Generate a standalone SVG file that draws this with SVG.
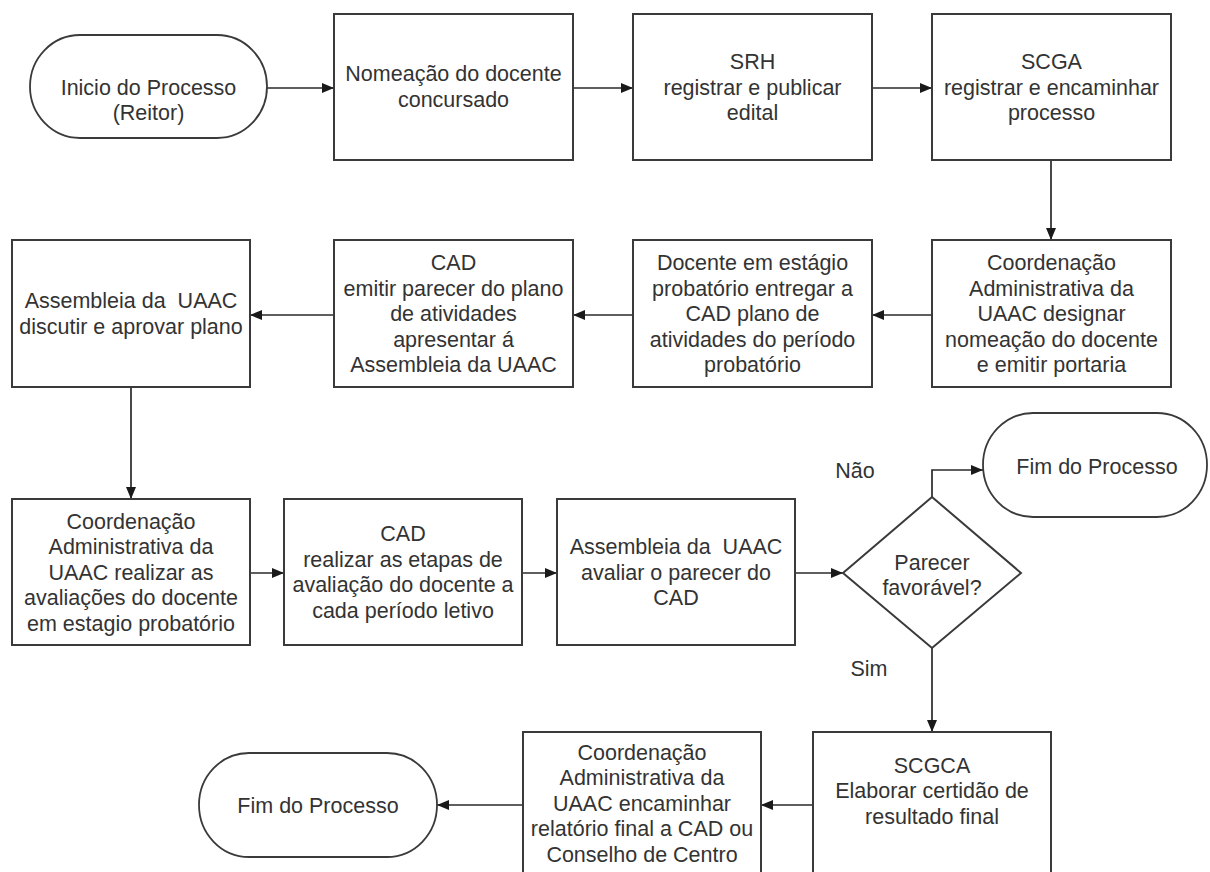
<svg xmlns="http://www.w3.org/2000/svg" width="1210" height="872" viewBox="0 0 1210 872">
  <style>
    .box { fill: #ffffff; stroke: #3a3a3a; stroke-width: 2; }
    .term { fill: #ffffff; stroke: #3a3a3a; stroke-width: 1.8; }
    .lbl { font-family: "Liberation Sans", Arial, sans-serif; font-size: 21.5px; fill: #333333; text-anchor: middle; white-space: pre; }
    .edge { fill: none; stroke: #2a2a2a; stroke-width: 1.7; marker-end: url(#arrow); }
  </style>
  <defs>
    <marker id="arrow" markerUnits="userSpaceOnUse" markerWidth="13" markerHeight="11" refX="12" refY="5.5" orient="auto">
      <path d="M0,0.5 L12,5.5 L0,10.5 z" fill="#1a1a1a"/>
    </marker>
  </defs>
  <rect width="1210" height="872" fill="#ffffff"/>

  <!-- connectors -->
  <g id="connectors">
    <path class="edge" d="M267,88 L334,88"/>
    <path class="edge" d="M573,88 L633,88"/>
    <path class="edge" d="M872,88 L932,88"/>
    <path class="edge" d="M1051,160 L1051,240"/>
    <path class="edge" d="M932,315 L872,315"/>
    <path class="edge" d="M633,315 L573,315"/>
    <path class="edge" d="M334,315 L250,315"/>
    <path class="edge" d="M131,387 L131,499"/>
    <path class="edge" d="M250,573 L284,573"/>
    <path class="edge" d="M522,573 L557,573"/>
    <path class="edge" d="M795,573 L843,573"/>
    <path class="edge" d="M932,497 L932,470 L983,470"/>
    <path class="edge" d="M932,648 L932,732"/>
    <path class="edge" d="M813,805 L761,805"/>
    <path class="edge" d="M523,805 L437,805"/>
  </g>

  <!-- row 1 -->
  <g id="inicio">
    <rect class="term" x="30" y="35" width="237" height="103" rx="50" ry="51.5"/>
    <text class="lbl" x="148.5" y="95">Inicio do Processo</text>
    <text class="lbl" x="148.5" y="120">(Reitor)</text>
  </g>
  <g id="nomeacao">
    <rect class="box" x="334" y="14" width="239" height="146"/>
    <text class="lbl" x="453.5" y="81">Nomeação do docente</text>
    <text class="lbl" x="453.5" y="107">concursado</text>
  </g>
  <g id="srh">
    <rect class="box" x="633" y="14" width="239" height="146"/>
    <text class="lbl" x="752.5" y="69">SRH</text>
    <text class="lbl" x="752.5" y="94.5">registrar e publicar</text>
    <text class="lbl" x="752.5" y="120">edital</text>
  </g>
  <g id="scga">
    <rect class="box" x="932" y="14" width="239" height="146"/>
    <text class="lbl" x="1051.5" y="69">SCGA</text>
    <text class="lbl" x="1051.5" y="94.5">registrar e encaminhar</text>
    <text class="lbl" x="1051.5" y="120">processo</text>
  </g>

  <!-- row 2 -->
  <g id="coord-designar">
    <rect class="box" x="932" y="240" width="239" height="147"/>
    <text class="lbl" x="1051.5" y="270">Coordenação</text>
    <text class="lbl" x="1051.5" y="295.5">Administrativa da</text>
    <text class="lbl" x="1051.5" y="321">UAAC designar</text>
    <text class="lbl" x="1051.5" y="346.5">nomeação do docente</text>
    <text class="lbl" x="1051.5" y="372">e emitir portaria</text>
  </g>
  <g id="docente-entregar">
    <rect class="box" x="633" y="240" width="239" height="147"/>
    <text class="lbl" x="752.5" y="270">Docente em estágio</text>
    <text class="lbl" x="752.5" y="295.5">probatório entregar a</text>
    <text class="lbl" x="752.5" y="321">CAD plano de</text>
    <text class="lbl" x="752.5" y="346.5">atividades do período</text>
    <text class="lbl" x="752.5" y="372">probatório</text>
  </g>
  <g id="cad-parecer">
    <rect class="box" x="334" y="240" width="239" height="147"/>
    <text class="lbl" x="453.5" y="270">CAD</text>
    <text class="lbl" x="453.5" y="295.5">emitir parecer do plano</text>
    <text class="lbl" x="453.5" y="321">de atividades</text>
    <text class="lbl" x="453.5" y="346.5">apresentar á</text>
    <text class="lbl" x="453.5" y="372">Assembleia da UAAC</text>
  </g>
  <g id="assembleia-aprovar">
    <rect class="box" x="12" y="240" width="238" height="147"/>
    <text class="lbl" x="131" y="308" xml:space="preserve">Assembleia da  UAAC</text>
    <text class="lbl" x="131" y="333.5">discutir e aprovar plano</text>
  </g>

  <!-- row 3 -->
  <g id="coord-avaliacoes">
    <rect class="box" x="12" y="499" width="238" height="146"/>
    <text class="lbl" x="131" y="528.5">Coordenação</text>
    <text class="lbl" x="131" y="554">Administrativa da</text>
    <text class="lbl" x="131" y="579.5">UAAC realizar as</text>
    <text class="lbl" x="131" y="605">avaliações do docente</text>
    <text class="lbl" x="131" y="630.5">em estagio probatório</text>
  </g>
  <g id="cad-etapas">
    <rect class="box" x="284" y="499" width="238" height="146"/>
    <text class="lbl" x="403" y="541">CAD</text>
    <text class="lbl" x="403" y="567">realizar as etapas de</text>
    <text class="lbl" x="403" y="592">avaliação do docente a</text>
    <text class="lbl" x="403" y="618">cada período letivo</text>
  </g>
  <g id="assembleia-avaliar">
    <rect class="box" x="557" y="499" width="238" height="146"/>
    <text class="lbl" x="676" y="554" xml:space="preserve">Assembleia da  UAAC</text>
    <text class="lbl" x="676" y="579.5">avaliar o parecer do</text>
    <text class="lbl" x="676" y="605">CAD</text>
  </g>
  <g id="decisao">
    <polygon class="box" points="932,497 1021,573 932,648 843,573"/>
    <text class="lbl" x="932" y="569.5">Parecer</text>
    <text class="lbl" x="932" y="595">favorável?</text>
  </g>
  <g id="fim-nao">
    <rect class="term" x="983" y="413" width="224" height="104" rx="50" ry="52"/>
    <text class="lbl" x="1097" y="473.5">Fim do Processo</text>
  </g>
  <text class="lbl" x="855" y="477.5">Não</text>
  <text class="lbl" x="869" y="675.5">Sim</text>

  <!-- row 4 -->
  <g id="scgca">
    <rect class="box" x="813" y="732" width="238" height="148"/>
    <text class="lbl" x="932" y="772.5">SCGCA</text>
    <text class="lbl" x="932" y="798">Elaborar certidão de</text>
    <text class="lbl" x="932" y="823.5">resultado final</text>
  </g>
  <g id="coord-relatorio">
    <rect class="box" x="523" y="732" width="238" height="148"/>
    <text class="lbl" x="642" y="759.5">Coordenação</text>
    <text class="lbl" x="642" y="785">Administrativa da</text>
    <text class="lbl" x="642" y="810.5">UAAC encaminhar</text>
    <text class="lbl" x="642" y="836">relatório final a CAD ou</text>
    <text class="lbl" x="642" y="861.5">Conselho de Centro</text>
  </g>
  <g id="fim-final">
    <rect class="term" x="199" y="753" width="238" height="104" rx="50" ry="52"/>
    <text class="lbl" x="318" y="812.5">Fim do Processo</text>
  </g>
</svg>
